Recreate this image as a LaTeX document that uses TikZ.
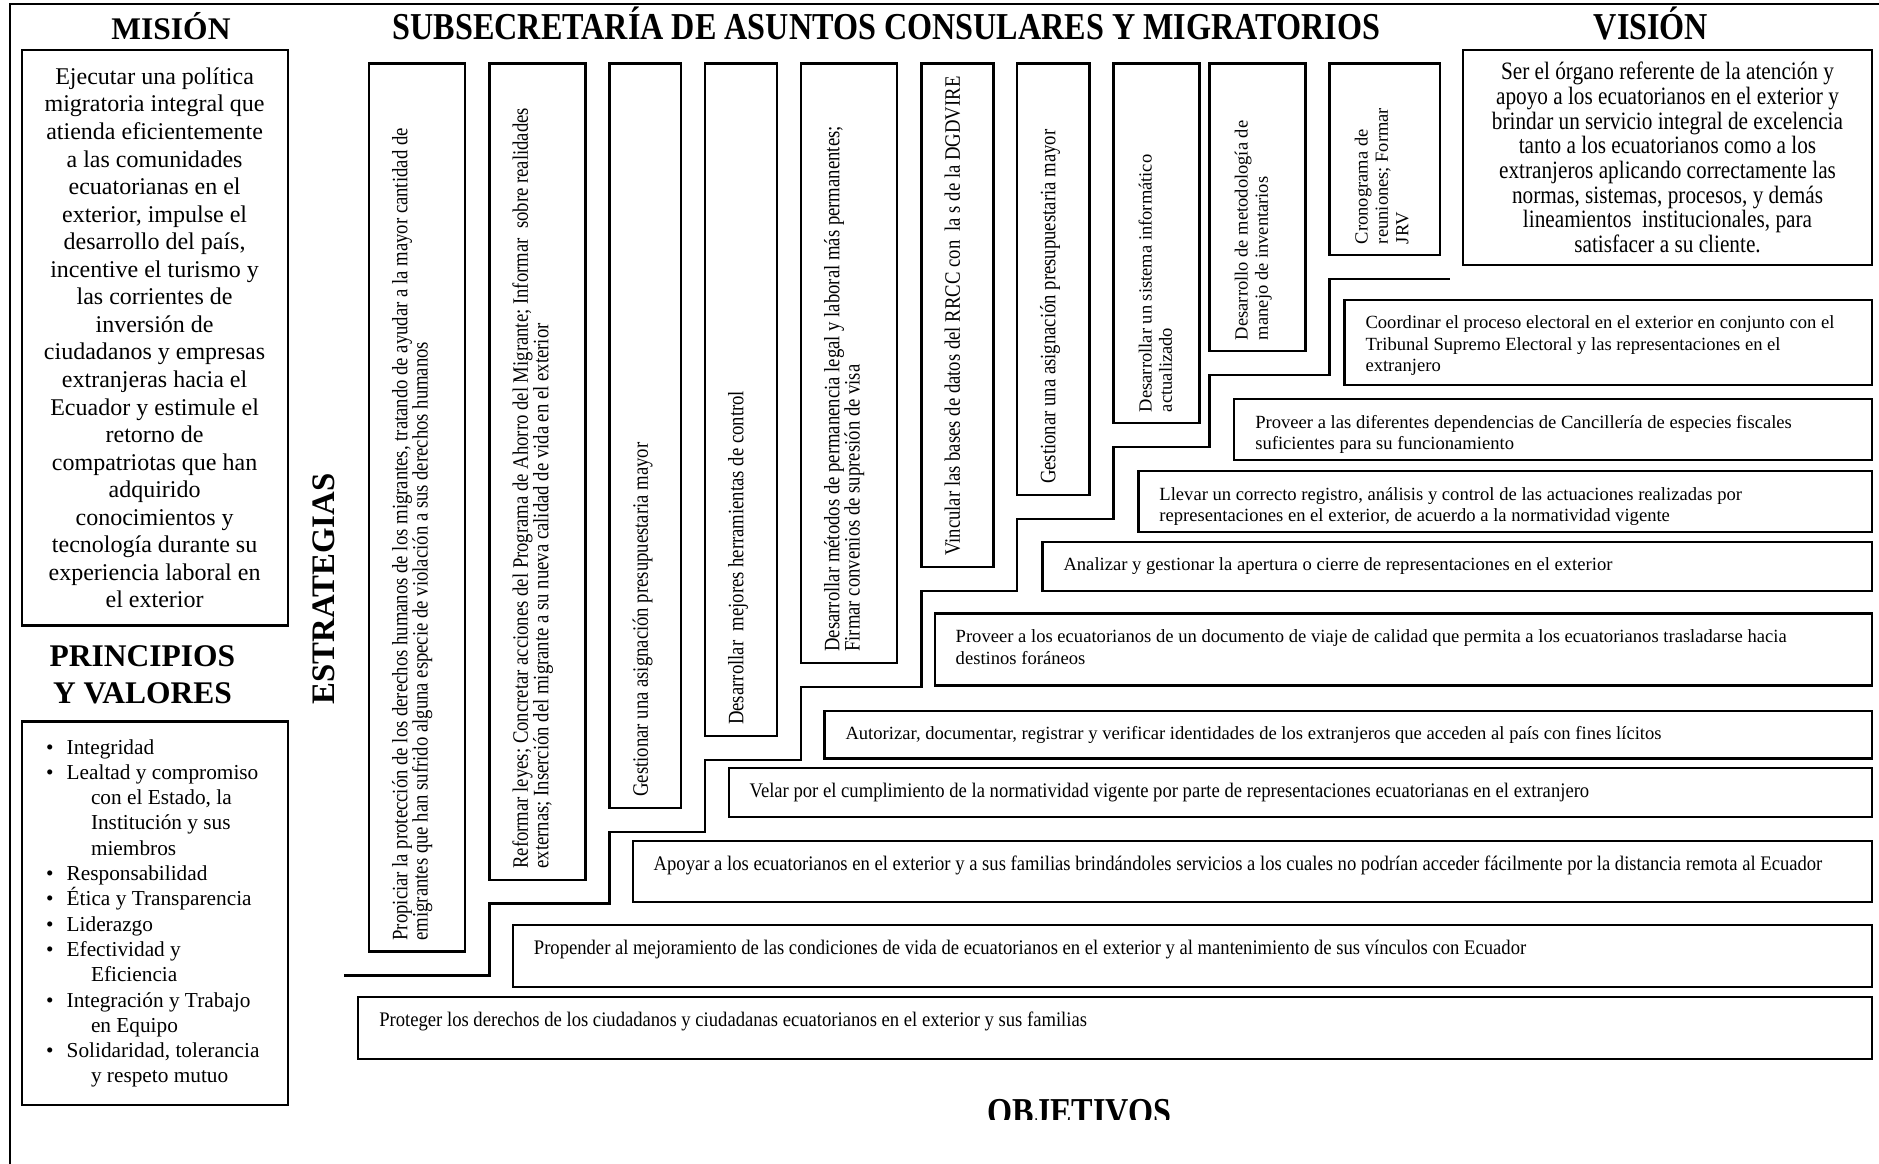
\documentclass[tikz,border=0pt]{standalone}
\usepackage{fontspec}
\setmainfont{Liberation Serif}
\newfontfamily\condfont[FakeStretch=0.85]{Liberation Serif}
\newfontfamily\condwidefont[FakeStretch=0.9]{Liberation Serif}
\newfontfamily\condheadfont[FakeStretch=0.847]{Liberation Serif}
\usetikzlibrary{calc}

% type sizes (1pt = 1px of the final image)
\newcommand\headfont{\fontsize{31.5}{36}\selectfont\bfseries}
\newcommand\sideheadfont{\fontsize{32.8}{36}\selectfont\bfseries}
\newcommand\cheadfont{\condheadfont\fontsize{38}{40}\selectfont\bfseries}
\newcommand\misfont{\fontsize{24}{27.55}\selectfont\lineskiplimit=-50pt\relax}
\newcommand\visfont{\condfont\fontsize{25}{24.65}\selectfont\lineskiplimit=-50pt\relax}
\newcommand\valfont{\fontsize{21.3}{25.3}\selectfont\lineskiplimit=-50pt\relax}
\newcommand\vcond{\condfont\fontsize{22}{20.4}\selectfont\lineskiplimit=-50pt\relax}
\newcommand\vnorm{\fontsize{18.5}{20.4}\selectfont\lineskiplimit=-50pt\relax}
\newcommand\onorm{\fontsize{18.6}{21.6}\selectfont\lineskiplimit=-50pt\relax}
\newcommand\ocond{\condwidefont\fontsize{20.7}{21.6}\selectfont\lineskiplimit=-50pt\relax}

\newcommand\bul{\makebox[20.7pt][l]{\textbullet}}
\newcommand\ind{\hspace*{45pt}}

% vertical strategy box: name, left, right, bottom, font, text
\newcommand\stratbox[6]{%
  \node[bx, anchor=north west, minimum width=#3-#2, minimum height=#4-63.5] (#1) at (#2,63.5) {};
  \node[vtext, font=#5] (#1t) at ([xshift=23pt,yshift=11pt]#1.south west) {\rule{0pt}{15pt}#6};
}
% horizontal objective box: name, left, top, bottom, font, text
\newcommand\objbox[6]{%
  \node[bx, anchor=north west, minimum width=1872-#2, minimum height=#4-#3] (#1) at (#2,#3) {};
  \node[otext, font=#5] (#1t) at ([xshift=21pt,yshift=-14pt]#1.north west) {\rule{0pt}{15pt}#6};
}

\begin{document}
\begin{tikzpicture}[x=1pt,y=-1pt,
  bx/.style={draw, line width=2.2pt, inner sep=0pt, outer sep=0pt},
  framerule/.style={line width=2pt},
  stairline/.style={line width=2.4pt},
  head/.style={font=\headfont, inner sep=0pt, anchor=base},
  chead/.style={font=\cheadfont, inner sep=0pt, anchor=base},
  vtext/.style={inner sep=0pt, outer sep=0pt, align=left, anchor=north west, rotate=90},
  otext/.style={inner sep=0pt, outer sep=0pt, align=left, anchor=north west},
]
\useasboundingbox (0,0) rectangle (1879,1164);

% page frame (top and left edges)
\draw[framerule] (10,1164) -- (10,4) -- (1879,4);

% headings
\node[head] (hmision) at (171,39.5) {MISIÓN};
\node[chead] (htitle) at (886.5,39.5) {SUBSECRETARÍA DE ASUNTOS CONSULARES Y MIGRATORIOS};
\node[chead] (hvision) at (1651,39.5) {VISIÓN};
\node[head] (hprin1) at (142.5,666) {PRINCIPIOS};
\node[head] (hprin2) at (142.5,703) {Y VALORES};
\node[font=\sideheadfont, inner sep=0pt, rotate=90] (hestr) at (324,589) {ESTRATEGIAS};
\begin{scope}
  \clip (900,1070) rectangle (1260,1119.5);
  \node[chead] (hobj) at (1079.7,1124) {OBJETIVOS};
\end{scope}

% mission
\node[bx, anchor=north west, minimum width=266, minimum height=575.2, align=center, font=\misfont] (mision) at (21.6,50.3) {%
Ejecutar una política\\
migratoria integral que\\
atienda eficientemente\\
a las comunidades\\
ecuatorianas en el\\
exterior, impulse el\\
desarrollo del país,\\
incentive el turismo y\\
las corrientes de\\
inversión de\\
ciudadanos y empresas\\
extranjeras hacia el\\
Ecuador y estimule el\\
retorno de\\
compatriotas que han\\
adquirido\\
conocimientos y\\
tecnología durante su\\
experiencia laboral en\\
el exterior};

% vision
\node[bx, anchor=north west, minimum width=409, minimum height=214.5, align=center, font=\visfont] (vision) at (1463,50.3) {%
Ser el órgano referente de la atención y\\
apoyo a los ecuatorianos en el exterior y\\
brindar un servicio integral de excelencia\\
tanto a los ecuatorianos como a los\\
extranjeros aplicando correctamente las\\
normas, sistemas, procesos, y demás\\
lineamientos\ \ institucionales, para\\
satisfacer a su cliente.};

% principles and values
\node[bx, anchor=north west, minimum width=266, minimum height=383.4] (valores) at (21.6,721.4) {};
\node[otext, font=\valfont] (valtxt) at (46,738) {%
\rule{0pt}{16pt}\bul Integridad\\
\bul Lealtad y compromiso\\
\ind con el Estado, la\\
\ind Institución y sus\\
\ind miembros\\
\bul Responsabilidad\\
\bul Ética y Transparencia\\
\bul Liderazgo\\
\bul Efectividad y\\
\ind Eficiencia\\
\bul Integración y Trabajo\\
\ind en Equipo\\
\bul Solidaridad, tolerancia\\
\ind y respeto mutuo};

% strategies
\stratbox{v1}{369}{465}{951.5}{\vcond}{Propiciar la protección de los derechos humanos de los migrantes, tratando de ayudar a la mayor cantidad de\\emigrantes que han sufrido alguna especie de violación a sus derechos humanos}
\stratbox{v2}{489.5}{585.5}{879.6}{\vcond}{Reformar leyes; Concretar acciones del Programa de Ahorro del Migrante; Informar\ \ sobre realidades\\externas; Inserción del migrante a su nueva calidad de vida en el exterior}
\stratbox{v3}{609.5}{681}{807.7}{\vcond}{Gestionar una asignación presupuestaria mayor}
\stratbox{v4}{705}{777}{735.8}{\vcond}{Desarrollar\ \ mejores herramientas de control}
\stratbox{v5}{801}{897}{662.7}{\vcond}{Desarrollar métodos de permanencia legal y laboral más permanentes;\\Firmar convenios de supresión de visa}
\stratbox{v6}{921.5}{993.5}{566.8}{\vcond}{Vincular las bases de datos del RRCC con\ \ la s de la DGDVIRE}
\stratbox{v7}{1017}{1089.5}{494.9}{\vcond}{Gestionar una asignación presupuestaria mayor}
\stratbox{v8}{1113.5}{1199.5}{423}{\vnorm}{Desarrollar un sistema informático\\actualizado}
\stratbox{v9}{1209.5}{1305.5}{351}{\vnorm}{Desarrollo de metodología de\\manejo de inventarios}
\stratbox{v10}{1329.5}{1440}{255}{\vnorm}{Cronograma de\\reuniones; Formar\\JRV}

% objectives
\objbox{o1}{1344.5}{299.6}{384.7}{\onorm}{Coordinar el proceso electoral en el exterior en conjunto con el\\Tribunal Supremo Electoral y las representaciones en el\\extranjero}
\objbox{o2}{1234.3}{399}{460}{\onorm}{Proveer a las diferentes dependencias de Cancillería de especies fiscales\\suficientes para su funcionamiento}
\objbox{o3}{1138.4}{471}{532}{\onorm}{Llevar un correcto registro, análisis y control de las actuaciones realizadas por\\representaciones en el exterior, de acuerdo a la normatividad vigente}
\objbox{o4}{1042.5}{541.6}{590.8}{\onorm}{Analizar y gestionar la apertura o cierre de representaciones en el exterior}
\objbox{o5}{934.7}{613.5}{685.5}{\onorm}{Proveer a los ecuatorianos de un documento de viaje de calidad que permita a los ecuatorianos trasladarse hacia\\destinos foráneos}
\objbox{o6}{824.5}{710.6}{758.5}{\onorm}{Autorizar, documentar, registrar y verificar identidades de los extranjeros que acceden al país con fines lícitos}
\objbox{o7}{728.6}{768}{817}{\ocond}{Velar por el cumplimiento de la normatividad vigente por parte de representaciones ecuatorianas en el extranjero}
\objbox{o8}{632.7}{841}{902}{\ocond}{Apoyar a los ecuatorianos en el exterior y a sus familias brindándoles servicios a los cuales no podrían acceder fácilmente por la distancia remota al Ecuador}
\objbox{o9}{512.9}{925}{987}{\ocond}{Propender al mejoramiento de las condiciones de vida de ecuatorianos en el exterior y al mantenimiento de sus vínculos con Ecuador}
\objbox{o10}{358.3}{997}{1059}{\ocond}{Proteger los derechos de los ciudadanos y ciudadanas ecuatorianos en el exterior y sus familias}

% staircase separating strategies from objectives
\coordinate (stairend) at (1450,279);
\draw[stairline] ([xshift=-25pt,yshift=-24pt]v1.south west)
  -| ([yshift=-24pt]v2.south west)
  -| ([yshift=-24pt]v3.south west)
  -| ([yshift=-24pt]v4.south west)
  -| ([yshift=-24pt]v5.south west)
  -| ([yshift=-24pt]v6.south west)
  -| ([yshift=-24pt]v7.south west)
  -| ([yshift=-24pt]v8.south west)
  -| ([yshift=-24pt]v9.south west)
  -| ([yshift=-24pt]v10.south west)
  -- (stairend);
\end{tikzpicture}
\end{document}
